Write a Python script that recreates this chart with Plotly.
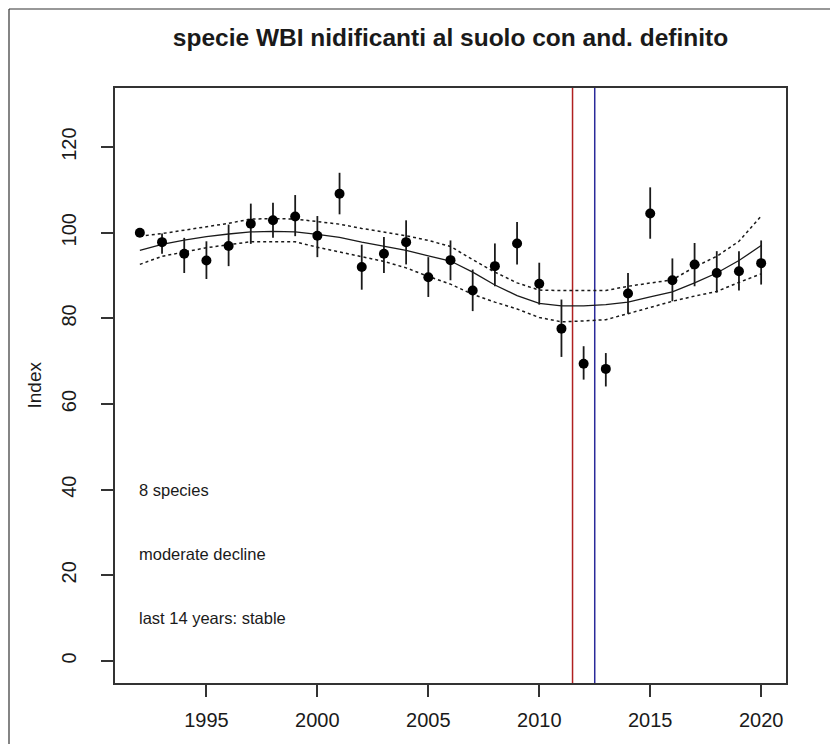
import plotly.graph_objects as go

# ---------------- data ----------------
years = list(range(1992, 2021))
index_vals = [100.0, 97.8, 95.1, 93.5, 96.9, 102.1, 102.9, 103.8, 99.3, 109.1,
              92.0, 95.1, 97.8, 89.6, 93.6, 86.5, 92.2, 97.5, 88.1, 77.6,
              69.4, 68.2, 85.8, 104.5, 88.9, 92.6, 90.6, 91.0, 92.9]
ci_upper = [100.0, 99.8, 98.8, 98.0, 101.9, 106.8, 107.0, 108.8, 103.9, 114.0,
            97.2, 99.0, 102.9, 94.3, 98.2, 91.4, 97.5, 102.5, 93.0, 84.4,
            73.5, 71.9, 90.6, 110.6, 94.0, 97.6, 95.7, 95.7, 98.2]
ci_lower = [100.0, 95.1, 90.6, 89.2, 92.2, 97.4, 98.8, 99.2, 94.3, 104.3,
            86.7, 90.6, 92.6, 85.0, 88.9, 81.7, 87.5, 92.6, 83.2, 71.0,
            65.7, 64.1, 81.1, 98.6, 84.0, 87.5, 86.0, 86.5, 87.9]
trend = [95.9, 97.3, 98.3, 99.1, 99.7, 100.2, 100.3, 100.2, 99.6, 98.9,
         97.8, 96.8, 95.9, 94.6, 93.4, 90.8, 87.8, 85.3, 83.5, 82.9,
         82.9, 83.2, 83.8, 85.0, 86.2, 88.3, 90.6, 93.5, 97.0]
trend_upper = [99.2, 99.8, 100.6, 101.4, 102.2, 103.2, 103.3, 103.2, 102.6, 102.0,
               101.0, 100.2, 99.3, 98.2, 96.8, 93.7, 90.8, 88.3, 86.6, 86.5,
               86.5, 86.5, 87.5, 88.2, 89.0, 92.0, 94.5, 98.0, 103.9]
trend_lower = [92.6, 94.5, 95.5, 96.5, 97.2, 97.9, 97.9, 97.9, 96.6, 95.5,
               94.4, 93.3, 91.8, 89.8, 88.0, 85.6, 83.8, 82.2, 80.2, 79.2,
               79.4, 79.7, 81.1, 82.6, 84.0, 85.2, 86.3, 88.4, 90.4]
red_line_x = 2011.5
blue_line_x = 2012.5
notes = ["8 species", "moderate decline", "last 14 years: stable"]
notes_y = [40, 25, 10]
notes_x = 1992
x_ticks = [1995, 2000, 2005, 2010, 2015, 2020]
y_ticks = [0, 20, 40, 60, 80, 100, 120]
title = "specie WBI nidificanti al suolo con and. definito"

FONT = "Liberation Sans, Arial, sans-serif"
INK = "#1a1a1a"

err_plus = [u - v for u, v in zip(ci_upper, index_vals)]
err_minus = [v - l for v, l in zip(index_vals, ci_lower)]

fig = go.Figure()

# vertical reference lines
fig.add_trace(go.Scatter(x=[red_line_x, red_line_x], y=[-10, 140], mode="lines",
                         line=dict(color="#b02020", width=1.5), showlegend=False,
                         hoverinfo="skip"))
fig.add_trace(go.Scatter(x=[blue_line_x, blue_line_x], y=[-10, 140], mode="lines",
                         line=dict(color="#2a2a9a", width=1.5), showlegend=False,
                         hoverinfo="skip"))

# trend + confidence band
fig.add_trace(go.Scatter(x=years, y=trend, mode="lines",
                         line=dict(color=INK, width=1.3), showlegend=False))
fig.add_trace(go.Scatter(x=years, y=trend_upper, mode="lines",
                         line=dict(color=INK, width=1.5, dash="3px,3px"), showlegend=False))
fig.add_trace(go.Scatter(x=years, y=trend_lower, mode="lines",
                         line=dict(color=INK, width=1.5, dash="3px,3px"), showlegend=False))

# indices with error bars
fig.add_trace(go.Scatter(x=years, y=index_vals, mode="markers",
                         marker=dict(color="black", size=10),
                         error_y=dict(type="data", symmetric=False, array=err_plus,
                                      arrayminus=err_minus, color=INK, thickness=1.8,
                                      width=0),
                         showlegend=False))

L, R, T, B = 115, 44, 88, 61
W, H = 830, 744
pw, ph = W - L - R, H - T - B

def px2paper_x(px):
    return (px - L) / pw

def px2paper_y(py):
    return (H - B - py) / ph

annotations = []
for txt, yv in zip(notes, notes_y):
    annotations.append(dict(x=notes_x, y=yv, xref="x", yref="y", text=txt,
                            showarrow=False, xanchor="left", yanchor="middle", xshift=-3,
                            font=dict(family=FONT, size=16.5, color=INK)))
annotations.append(dict(x=px2paper_x(34), y=0.5, xref="paper", yref="paper", text="Index",
                        textangle=-90, showarrow=False, xanchor="center",
                        yanchor="middle", font=dict(family=FONT, size=19, color=INK)))

shapes = [
    dict(type="line", xref="paper", yref="paper",
         x0=px2paper_x(9), x1=px2paper_x(9), y0=px2paper_y(9), y1=px2paper_y(760),
         line=dict(color="#333333", width=1.2)),
    dict(type="line", xref="paper", yref="paper",
         x0=px2paper_x(9), x1=px2paper_x(840), y0=px2paper_y(9), y1=px2paper_y(9),
         line=dict(color="#333333", width=1.2)),
]

fig.update_layout(
    width=W, height=H,
    margin=dict(l=L, r=R, t=T, b=B),
    paper_bgcolor="white", plot_bgcolor="white",
    title=dict(text="<b>" + title + "</b>", x=0.5, xref="paper", xanchor="center",
               y=1 - 37 / H, yref="container", yanchor="middle",
               font=dict(family=FONT, size=24.5, color=INK)),
    xaxis=dict(range=[1990.88, 2021.12], tickvals=x_ticks, ticktext=[str(t) for t in x_ticks],
               showgrid=False, zeroline=False, showline=True, linecolor="#333333",
               linewidth=1.5, mirror=True, ticks="outside", ticklen=12, tickwidth=1.5,
               tickcolor="#333333", tickfont=dict(family=FONT, size=20, color=INK),
               ticklabelstandoff=6),
    yaxis=dict(range=[-5.15, 133.8], tickvals=y_ticks, ticktext=[str(t) for t in y_ticks],
               showgrid=False, zeroline=False, showline=True, linecolor="#333333",
               linewidth=1.5, mirror=True, ticks="outside", ticklen=12, tickwidth=1.5,
               tickcolor="#333333", tickangle=-90,
               tickfont=dict(family=FONT, size=20, color=INK), ticklabelstandoff=17),
    annotations=annotations,
    shapes=shapes,
    showlegend=False,
)

fig.write_html("out.html")
